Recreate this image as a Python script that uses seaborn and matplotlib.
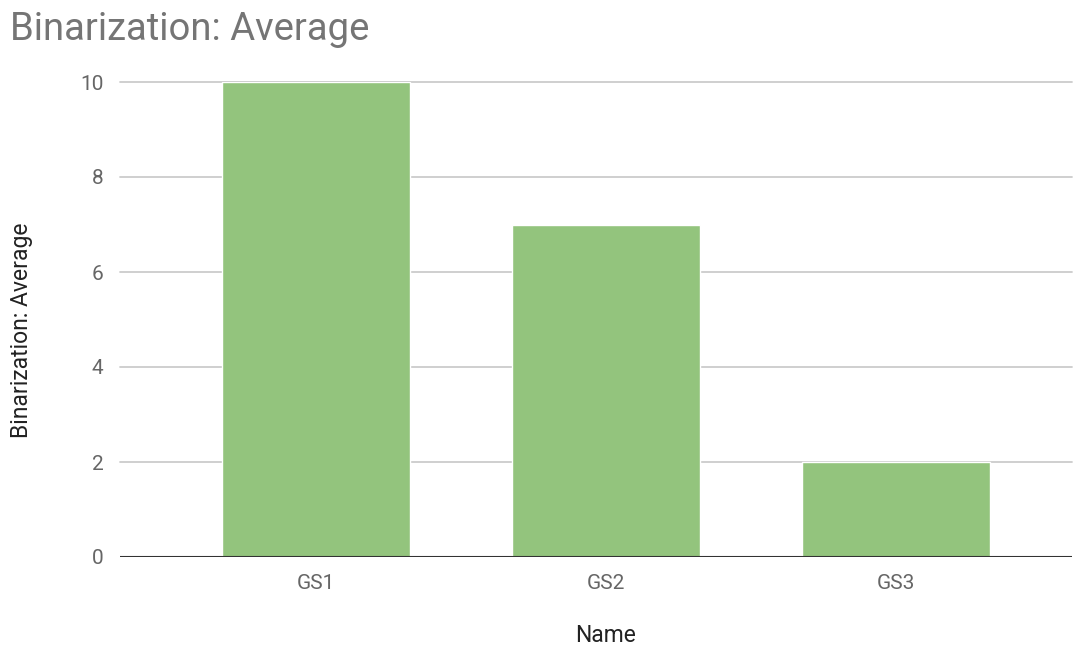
import matplotlib.pyplot as plt
import pandas as pd
import seaborn as sns

# values
names = ['GS1', 'GS2', 'GS3']
averages = [10, 7, 2]

df = pd.DataFrame({'Name': names, 'Binarization: Average': averages})

sns.set_theme(style='white')
plt.rcParams['font.family'] = ['Roboto', 'DejaVu Sans']

fig = plt.figure(figsize=(10.86, 6.51), dpi=100)
ax = fig.add_axes([120/1086, 1-557/651, (1072-120)/1086, (557-82)/651])

sns.barplot(data=df, x='Name', y='Binarization: Average', color='#93c47d',
            saturation=1, width=0.65, ax=ax, zorder=3)

ax.set_xlim(-0.676, 2.607)
ax.set_ylim(0, 10)
ax.set_yticks([0, 2, 4, 6, 8, 10])
for v in [2, 4, 6, 8, 10]:
    ax.axhline(v, color='#cccccc', lw=1.3, zorder=1, clip_on=False)
ax.axhline(0, color='#333333', lw=1.5, zorder=4)

for s in ax.spines.values():
    s.set_visible(False)
ax.tick_params(axis='both', length=0, labelsize=15, colors='#666666')
ax.tick_params(axis='y', pad=12)
ax.tick_params(axis='x', pad=12)
ax.set_xlabel('')
ax.set_ylabel('')

fig.text(10/1086, 1-40/651, 'Binarization: Average', fontsize=27.5,
         color='#757575', va='baseline', ha='left')
fig.text(22/1086, 1-330/651, 'Binarization: Average', fontsize=16.5,
         color='#222222', rotation=90, va='center', ha='center')
fig.text(606/1086, 1-636/651, 'Name', fontsize=16.5, color='#222222',
         va='center', ha='center')

fig.savefig('out.png', dpi=100)
